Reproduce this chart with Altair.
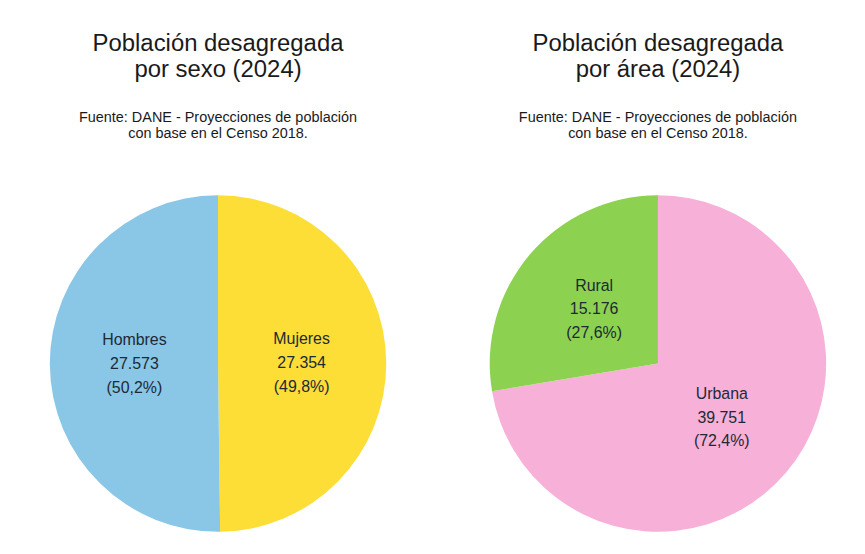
import altair as alt
import pandas as pd

# --- Data ---
sexo_cat = ["Mujeres", "Hombres"]
sexo_val = [27354, 27573]
sexo_num = ["27.354", "27.573"]
sexo_pct = ["(49,8%)", "(50,2%)"]
sexo_col = ["#FDDE36", "#8AC6E5"]

area_cat = ["Urbana", "Rural"]
area_val = [39751, 15176]
area_num = ["39.751", "15.176"]
area_pct = ["(72,4%)", "(27,6%)"]
area_col = ["#F7B0D7", "#8CD150"]

subtitle = ["Fuente: DANE - Proyecciones de población", "con base en el Censo 2018."]

FONT = "Liberation Sans"


def pie(cats, vals, nums, pcts, cols, title_lines):
    df = pd.DataFrame({
        "cat": cats,
        "val": vals,
        "orden": list(range(len(cats))),
        "label": [f"{c}\n{n}\n{p}" for c, n, p in zip(cats, nums, pcts)],
    })
    base = alt.Chart(df).encode(
        theta=alt.Theta("val:Q", stack=True),
        order=alt.Order("orden:Q"),
    )
    arcs = base.mark_arc(outerRadius=169, stroke=None).encode(
        color=alt.Color("cat:N", scale=alt.Scale(domain=cats, range=cols), legend=None)
    )
    text = base.mark_text(
        radius=84, fontSize=16, lineHeight=24, lineBreak="\n", dy=-24,
        font=FONT, color="#1c2a36", align="center", baseline="middle",
    ).encode(text="label:N")
    return alt.layer(arcs, text).properties(
        width=400, height=338,
        title=alt.TitleParams(
            text=title_lines, subtitle=subtitle,
            fontSize=24, lineHeight=27, font=FONT, fontWeight="normal", color="#1a1a1a",
            subtitleFont=FONT, subtitleFontSize=14.5, subtitleLineHeight=16,
            subtitleColor="#1a1a1a", subtitlePadding=29, offset=55, anchor="middle",
        ),
    )


left = pie(sexo_cat, sexo_val, sexo_num, sexo_pct, sexo_col,
           ["Población desagregada", "por sexo (2024)"])
right = pie(area_cat, area_val, area_num, area_pct, area_col,
            ["Población desagregada", "por área (2024)"])

chart = alt.hconcat(left, right, spacing=42).resolve_scale(
    color="independent", theta="independent"
).properties(
    padding={"left": 11, "top": 22, "right": 0, "bottom": 0}
).configure_view(stroke=None).configure(background="white")

chart.save("out.html", embed_options={"renderer": "svg", "actions": False})
